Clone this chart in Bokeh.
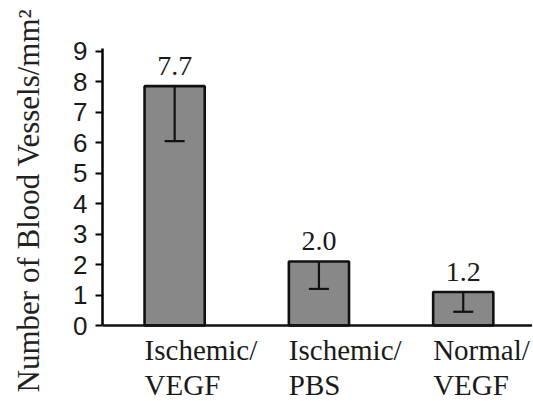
from bokeh.plotting import figure
from bokeh.models import ColumnDataSource, Whisker, TeeHead, FixedTicker, Range1d, Span
from bokeh.core.properties import value
from bokeh.embed import file_html
from bokeh.resources import INLINE

categories = ["Ischemic/\nVEGF", "Ischemic/\nPBS", "Normal/\nVEGF"]
heights = [7.85, 2.1, 1.1]
lowers = [6.05, 1.2, 0.45]
value_labels = ["7.7", "2.0", "1.2"]
y_ticks = [0, 1, 2, 3, 4, 5, 6, 7, 8, 9]

BAR_W = 0.417
xs = list(range(len(categories)))
src = ColumnDataSource(dict(x=xs, top=heights, lower=lowers, lab=value_labels,
                            cat=categories, xl=[x - BAR_W / 2 for x in xs],
                            zero=[0] * len(xs)))

SERIF = "Liberation Serif"

p = figure(width=532, height=400, output_backend="svg", toolbar_location=None,
           x_range=Range1d(-0.5, 2.48), y_range=Range1d(-2.46, 10.66),
           x_axis_location=None,
           min_border_left=102, min_border_right=0, min_border_top=0, min_border_bottom=0)
p.outline_line_color = None
p.xgrid.visible = False
p.ygrid.visible = False
p.background_fill_color = "white"

p.vbar(x="x", top="top", width=BAR_W, bottom=0, source=src,
       fill_color="#888888", line_color="#111111", line_width=2.6)

w = Whisker(base="x", upper="top", lower="lower", source=src, level="overlay",
            line_color="#111111", line_width=2.2, upper_head=None,
            lower_head=TeeHead(size=20, line_color="#111111", line_width=2.2))
p.add_layout(w)

p.add_layout(Span(location=0, dimension="width", line_color="#111111", line_width=2.5))

p.text(x="x", y="top", text="lab", source=src, text_align="center", text_baseline="alphabetic",
       y_offset=-20, text_font=value(SERIF), text_font_size="28px", text_color="#1a1a1a")

p.text(x="xl", y="zero", text="cat", source=src, text_align="left", text_baseline="top",
       y_offset=8, text_font=value(SERIF), text_font_size="29px",
       text_line_height=1.12, text_color="#1a1a1a")

p.yaxis.ticker = FixedTicker(ticks=y_ticks)
p.yaxis.bounds = (0, 9.1)
p.yaxis.major_label_text_font = "Liberation Sans"
p.yaxis.major_label_text_font_size = "26px"
p.yaxis.major_label_text_color = "#1a1a1a"
p.yaxis.major_tick_in = 0
p.yaxis.major_tick_out = 7
p.yaxis.major_tick_line_width = 2
p.yaxis.minor_tick_line_color = None
p.yaxis.axis_line_width = 2.5
p.yaxis.major_label_standoff = 8
p.yaxis.axis_label = "Number of Blood Vessels/mm²"
p.yaxis.axis_label_text_font = SERIF
p.yaxis.axis_label_text_font_style = "normal"
p.yaxis.axis_label_text_font_size = "31px"
p.yaxis.axis_label_text_color = "#222222"
p.yaxis.axis_label_standoff = 24

open("out.html", "w").write(file_html(p, INLINE))
